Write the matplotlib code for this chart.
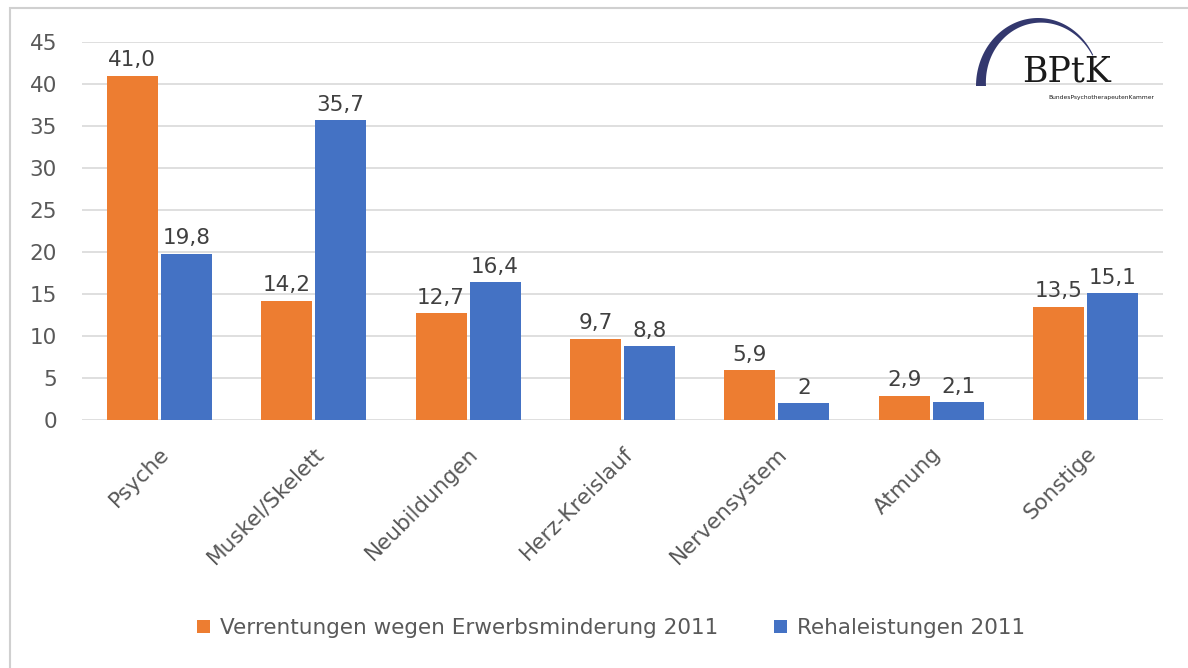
import matplotlib.pyplot as plt
import numpy as np
from matplotlib.patches import Rectangle, PathPatch
from matplotlib.path import Path

kategorien = ['Psyche', 'Muskel/Skelett', 'Neubildungen', 'Herz-Kreislauf',
              'Nervensystem', 'Atmung', 'Sonstige']
verrentungen = [41.0, 14.2, 12.7, 9.7, 5.9, 2.9, 13.5]
reha = [19.8, 35.7, 16.4, 8.8, 2.0, 2.1, 15.1]
labels_verr = ['41,0', '14,2', '12,7', '9,7', '5,9', '2,9', '13,5']
labels_reha = ['19,8', '35,7', '16,4', '8,8', '2', '2,1', '15,1']
serien = ['Verrentungen wegen Erwerbsminderung 2011', 'Rehaleistungen 2011']

orange = '#ED7D31'
blau = '#4472C4'
grau = '#595959'
fs = 15.5

plt.rcParams['font.family'] = ['DejaVu Sans']

fig = plt.figure(figsize=(11.88, 6.68), dpi=100)
# Rahmen um das Diagramm (nur oben und links sichtbar)
fig.add_artist(Rectangle((10 / 1188, -0.05), 1.2, 1 - 8 / 668 + 0.05, transform=fig.transFigure,
                         fill=False, edgecolor='#D0D0D0', linewidth=1.5))

ax = fig.add_axes([82 / 1188, 1 - 420 / 668, (1163 - 82) / 1188, (420 - 42) / 668])
x = np.arange(len(kategorien))
b = 0.33
ax.bar(x - b / 2 - 0.01, verrentungen, b, color=orange, zorder=3)
ax.bar(x + b / 2 + 0.01, reha, b, color=blau, zorder=3)

for i in range(len(x)):
    ax.annotate(labels_verr[i], (x[i] - b / 2 - 0.01, verrentungen[i]), xytext=(0, 4),
                textcoords='offset points', ha='center', va='bottom', fontsize=fs, color='#404040')
    ax.annotate(labels_reha[i], (x[i] + b / 2 + 0.01, reha[i]), xytext=(0, 4),
                textcoords='offset points', ha='center', va='bottom', fontsize=fs, color='#404040')

ax.set_xlim(-0.5, len(x) - 0.5)
ax.set_ylim(0, 45)
ax.set_yticks(np.arange(0, 46, 5))
ax.yaxis.grid(True, color='#D9D9D9', linewidth=1.2, zorder=0)
for s in ax.spines.values():
    s.set_visible(False)
ax.tick_params(axis='both', length=0, labelsize=fs, labelcolor=grau)
ax.tick_params(axis='y', pad=18)
ax.set_xticks(x)
ax.set_xticklabels(kategorien, rotation=45, ha='right', rotation_mode='anchor')
ax.tick_params(axis='x', pad=17)

# Legende
ax.legend(serien, loc='center', bbox_to_anchor=((611 - 82) / 1081, (420 - 628) / 378),
          ncol=2, frameon=False, fontsize=fs, labelcolor=grau, handlelength=0.6,
          handleheight=0.6, handletextpad=0.45, columnspacing=2.6)

# Logo BPtK
cx, cy, rx, ry = 1038, 86, 62, 68
t0 = 0.15 * np.pi
t = np.linspace(t0, np.pi, 80)
w = 1 + 9 * (t - t0) / (np.pi - t0)
aussen = np.column_stack([cx + rx * np.cos(t), cy - ry * np.sin(t)])
innen = np.column_stack([cx + (rx - w) * np.cos(t), cy - (ry - w) * np.sin(t)])[::-1]
pts = np.vstack([aussen, innen, aussen[:1]])
pts_fig = np.column_stack([pts[:, 0] / 1188, 1 - pts[:, 1] / 668])
codes = [Path.MOVETO] + [Path.LINETO] * (len(pts_fig) - 2) + [Path.CLOSEPOLY]
fig.add_artist(PathPatch(Path(pts_fig, codes), transform=fig.transFigure,
                         facecolor='#33386E', edgecolor='none'))
fig.text(1022 / 1188, 1 - 72 / 668, 'BPtK', family='DejaVu Serif', fontsize=25,
         ha='left', va='center', color='#1A1A1A')
fig.text(1048 / 1188, 1 - 98 / 668, 'BundesPsychotherapeutenKammer', fontsize=4.3,
         ha='left', va='center', color='#1A1A1A')

fig.savefig('out.png', dpi=100)
